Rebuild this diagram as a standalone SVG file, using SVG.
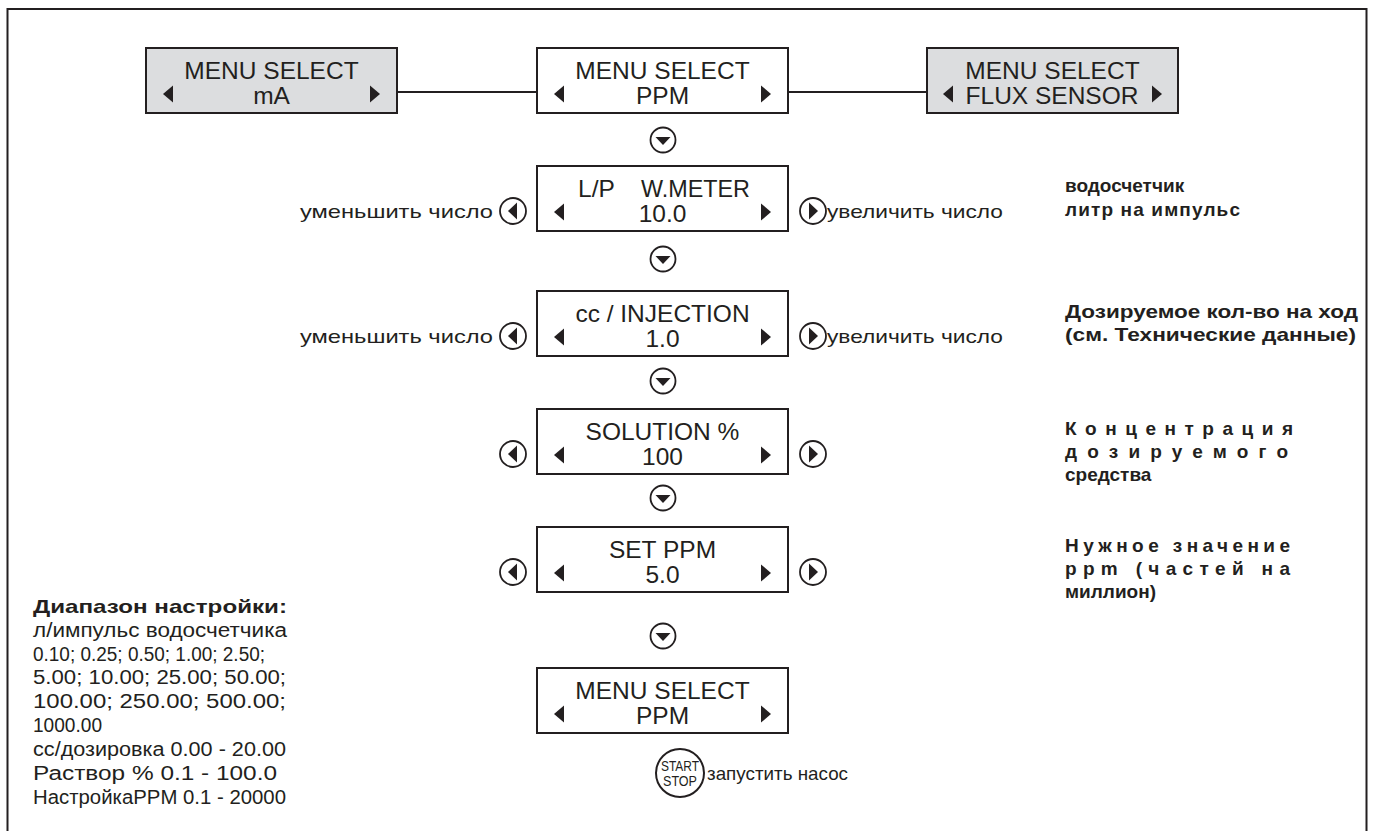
<svg xmlns="http://www.w3.org/2000/svg" width="1374" height="831" viewBox="0 0 1374 831">
<defs>
<style>
.t{font-family:"Liberation Sans",Arial,sans-serif;fill:#231f20}
.bx{font-size:24.5px}
.box{fill:#fff;stroke:#231f20;stroke-width:2}
.gbox{fill:#dcdddf;stroke:#231f20;stroke-width:2}
.ln{stroke:#231f20;stroke-width:2;fill:none}
.ic{fill:#fff;stroke:#231f20;stroke-width:1.8}
.tri{fill:#231f20}
.lbl{font-size:19px}
.b{font-size:19px;font-weight:bold}
.lt{font-size:20px}
</style>
<g id="down">
<circle class="ic" cx="0" cy="0" r="12.5"/>
<polygon class="tri" points="-7.5,-3 7.5,-3 0,5"/>
</g>
<g id="lft">
<circle class="ic" cx="0" cy="0" r="13"/>
<polygon class="tri" points="4,-8.5 4,8.5 -5,0"/>
</g>
<g id="rgt">
<circle class="ic" cx="0" cy="0" r="13"/>
<polygon class="tri" points="-4,-8.5 -4,8.5 5,0"/>
</g>
<polygon id="tl" class="tri" points="10,-8.5 10,8.5 0,0"/>
<polygon id="tr" class="tri" points="0,-8.5 0,8.5 10,0"/>
</defs>
<rect width="1374" height="831" fill="#fff"/>
<path class="ln" d="M7.5,840 V9 H1366.5 V840"/>

<g id="connectors">
<line class="ln" x1="397" y1="92" x2="537" y2="92"/>
<line class="ln" x1="788" y1="92" x2="927" y2="92"/>
<use href="#down" x="663" y="140"/>
<use href="#down" x="663" y="259"/>
<use href="#down" x="663" y="381"/>
<use href="#down" x="663" y="498"/>
<use href="#down" x="663" y="636"/>
</g>

<g id="node-ma">
<rect class="gbox" x="146" y="48" width="251" height="65"/>
<text class="t bx" x="271.5" y="79" text-anchor="middle">MENU SELECT</text>
<text class="t bx" x="271.5" y="104" text-anchor="middle">mA</text>
<use href="#tl" x="163" y="94"/>
<use href="#tr" x="370" y="94"/>
</g>

<g id="node-ppm">
<rect class="box" x="537" y="48" width="251" height="65"/>
<text class="t bx" x="662.5" y="79" text-anchor="middle">MENU SELECT</text>
<text class="t bx" x="662.5" y="104" text-anchor="middle">PPM</text>
<use href="#tl" x="554" y="94"/>
<use href="#tr" x="761" y="94"/>
</g>

<g id="node-flux">
<rect class="gbox" x="927" y="48" width="251" height="65"/>
<text class="t bx" x="1052.5" y="79" text-anchor="middle">MENU SELECT</text>
<text class="t bx" x="1052" y="104" text-anchor="middle">FLUX SENSOR</text>
<use href="#tl" x="943" y="94"/>
<use href="#tr" x="1152" y="94"/>
</g>

<g id="node-lp">
<rect class="box" x="537" y="166" width="251" height="65"/>
<text class="t bx" x="578" y="197">L/P</text>
<text class="t bx" x="641" y="197" textLength="109" lengthAdjust="spacingAndGlyphs">W.METER</text>
<text class="t bx" x="662.5" y="222" text-anchor="middle">10.0</text>
<use href="#tl" x="554" y="212"/>
<use href="#tr" x="761" y="212"/>
<use href="#lft" x="513" y="211"/>
<use href="#rgt" x="813" y="211"/>
<text class="t lbl" x="493" y="218" text-anchor="end" textLength="193" lengthAdjust="spacingAndGlyphs">уменьшить число</text>
<text class="t lbl" x="827" y="218" textLength="176" lengthAdjust="spacingAndGlyphs">увеличить число</text>
</g>

<g id="node-cc">
<rect class="box" x="537" y="291" width="251" height="65"/>
<text class="t bx" x="662.5" y="322" text-anchor="middle">cc / INJECTION</text>
<text class="t bx" x="662.5" y="347" text-anchor="middle">1.0</text>
<use href="#tl" x="554" y="337"/>
<use href="#tr" x="761" y="337"/>
<use href="#lft" x="513" y="336"/>
<use href="#rgt" x="813" y="336"/>
<text class="t lbl" x="493" y="343" text-anchor="end" textLength="193" lengthAdjust="spacingAndGlyphs">уменьшить число</text>
<text class="t lbl" x="827" y="343" textLength="176" lengthAdjust="spacingAndGlyphs">увеличить число</text>
</g>

<g id="node-solution">
<rect class="box" x="537" y="409" width="251" height="65"/>
<text class="t bx" x="662.5" y="440" text-anchor="middle">SOLUTION %</text>
<text class="t bx" x="662.5" y="465" text-anchor="middle">100</text>
<use href="#tl" x="554" y="455"/>
<use href="#tr" x="761" y="455"/>
<use href="#lft" x="513" y="454"/>
<use href="#rgt" x="813" y="454"/>
</g>

<g id="node-setppm">
<rect class="box" x="537" y="527" width="251" height="65"/>
<text class="t bx" x="662.5" y="558" text-anchor="middle">SET PPM</text>
<text class="t bx" x="662.5" y="583" text-anchor="middle">5.0</text>
<use href="#tl" x="554" y="573"/>
<use href="#tr" x="761" y="573"/>
<use href="#lft" x="513" y="572"/>
<use href="#rgt" x="813" y="572"/>
</g>

<g id="node-menu-end">
<rect class="box" x="537" y="668" width="251" height="65"/>
<text class="t bx" x="662.5" y="699" text-anchor="middle">MENU SELECT</text>
<text class="t bx" x="662.5" y="724" text-anchor="middle">PPM</text>
<use href="#tl" x="554" y="714"/>
<use href="#tr" x="761" y="714"/>
</g>

<g id="node-startstop">
<circle cx="680" cy="773" r="24" fill="#fff" stroke="#231f20" stroke-width="2"/>
<text class="t" x="680" y="771" font-size="14" text-anchor="middle" textLength="38" lengthAdjust="spacingAndGlyphs">START</text>
<text class="t" x="680" y="786" font-size="14" text-anchor="middle" textLength="34" lengthAdjust="spacingAndGlyphs">STOP</text>
<text class="t lbl" x="707" y="780" textLength="141" lengthAdjust="spacingAndGlyphs">запустить насос</text>
</g>

<g id="notes-right">
<text class="t b" x="1065" y="192">водосчетчик</text>
<text class="t b" x="1065" y="216" textLength="175" lengthAdjust="spacing">литр на импульс</text>
<text class="t b" x="1065" y="318" textLength="293" lengthAdjust="spacingAndGlyphs">Дозируемое кол-во на ход</text>
<text class="t b" x="1065" y="341" textLength="291" lengthAdjust="spacingAndGlyphs">(см. Технические данные)</text>
<text class="t b" x="1065" y="435" textLength="228" lengthAdjust="spacing">Концентрация</text>
<text class="t b" x="1065" y="458" textLength="223" lengthAdjust="spacing">дозируемого</text>
<text class="t b" x="1065" y="481">средства</text>
<text class="t b" x="1065" y="552" textLength="225" lengthAdjust="spacing">Нужное значение</text>
<text class="t b" x="1065" y="575" textLength="225" lengthAdjust="spacing">ppm (частей на</text>
<text class="t b" x="1065" y="598">миллион)</text>
</g>

<g id="notes-left">
<text class="t b" x="33" y="613" textLength="254" lengthAdjust="spacingAndGlyphs">Диапазон настройки:</text>
<text class="t lt" x="33" y="637" textLength="254" lengthAdjust="spacingAndGlyphs">л/импульс водосчетчика</text>
<text class="t lt" x="33" y="661" textLength="232" lengthAdjust="spacingAndGlyphs">0.10; 0.25; 0.50; 1.00; 2.50;</text>
<text class="t lt" x="33" y="684" textLength="253" lengthAdjust="spacingAndGlyphs">5.00; 10.00; 25.00; 50.00;</text>
<text class="t lt" x="33" y="708" textLength="253" lengthAdjust="spacingAndGlyphs">100.00; 250.00; 500.00;</text>
<text class="t lt" x="33" y="732" textLength="69" lengthAdjust="spacingAndGlyphs">1000.00</text>
<text class="t lt" x="33" y="756" textLength="253" lengthAdjust="spacingAndGlyphs">cc/дозировка 0.00 - 20.00</text>
<text class="t lt" x="33" y="780" textLength="244" lengthAdjust="spacingAndGlyphs">Раствор % 0.1 - 100.0</text>
<text class="t lt" x="33" y="804" textLength="253" lengthAdjust="spacingAndGlyphs">НастройкаPPM 0.1 - 20000</text>
</g>
</svg>
